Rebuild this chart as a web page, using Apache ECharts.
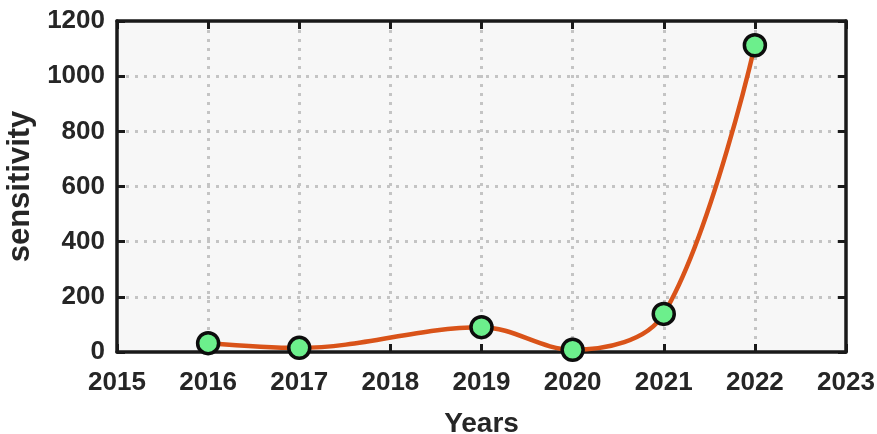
<!DOCTYPE html>
<html>
<head>
<meta charset="utf-8">
<script src="https://cdn.jsdelivr.net/npm/echarts@6/dist/echarts.min.js"></script>
<style>
  html, body { margin: 0; padding: 0; background: #fff; }
  #chart { width: 877px; height: 434px; }
</style>
</head>
<body>
<div id="chart"></div>
<script>
// values
var years = [2016, 2017, 2019, 2020, 2021, 2022]
var sensitivity = [32, 15, 90, 8, 138, 1112]

var font = 'Liberation Sans, Arial, sans-serif'
var points = years.map(function (y, i) { return [y, sensitivity[i]] })

var chart = echarts.init(document.getElementById('chart'))

var gridLine = {
  show: true,
  showMinLine: false,
  showMaxLine: false,
  lineStyle: { color: '#c4c4c4', width: 3, type: [3, 6] }
}
var border = { show: true, onZero: false, lineStyle: { color: '#1a1a1a', width: 3.5 } }
var tick = { show: true, inside: true, length: 8, lineStyle: { color: '#1a1a1a', width: 3 } }

chart.setOption({
  animation: false,
  grid: {
    left: 117, right: 31, top: 21, bottom: 82,
    outerBoundsMode: 'none',
    containLabel: false,
    show: true,
    backgroundColor: '#f7f7f7',
    borderWidth: 0
  },
  xAxis: [{
    type: 'value',
    min: 2015,
    max: 2023,
    interval: 1,
    name: 'Years',
    nameLocation: 'middle',
    nameGap: 58,
    nameTextStyle: { fontFamily: font, fontWeight: 'bold', fontSize: 28, color: '#262626' },
    axisLine: border,
    axisTick: tick,
    axisLabel: {
      fontFamily: font, fontWeight: 'bold', fontSize: 26, color: '#262626', margin: 18,
      formatter: function (v) { return String(v) }
    },
    splitLine: gridLine
  }, {
    type: 'value',
    position: 'top',
    min: 2015,
    max: 2023,
    interval: 1,
    axisLine: border,
    axisTick: tick,
    axisLabel: { show: false },
    splitLine: { show: false }
  }],
  yAxis: [{
    type: 'value',
    min: 0,
    max: 1200,
    interval: 200,
    name: 'sensitivity',
    nameLocation: 'middle',
    nameGap: 81,
    nameTextStyle: { fontFamily: font, fontWeight: 'bold', fontSize: 31, color: '#262626' },
    axisLine: border,
    axisTick: tick,
    axisLabel: {
      fontFamily: font, fontWeight: 'bold', fontSize: 26, color: '#262626', margin: 12,
      formatter: function (v) { return String(v) }
    },
    splitLine: gridLine
  }, {
    type: 'value',
    position: 'right',
    min: 0,
    max: 1200,
    interval: 200,
    axisLine: border,
    axisTick: tick,
    axisLabel: { show: false },
    splitLine: { show: false }
  }],
  series: [{
    type: 'line',
    data: points,
    smooth: 0.35,
    symbol: 'circle',
    symbolSize: 21,
    lineStyle: { color: '#d95319', width: 4.5 },
    itemStyle: { color: '#6cef8c', borderColor: '#0d0d0d', borderWidth: 3.5 },
    z: 5
  }]
})
</script>
</body>
</html>
